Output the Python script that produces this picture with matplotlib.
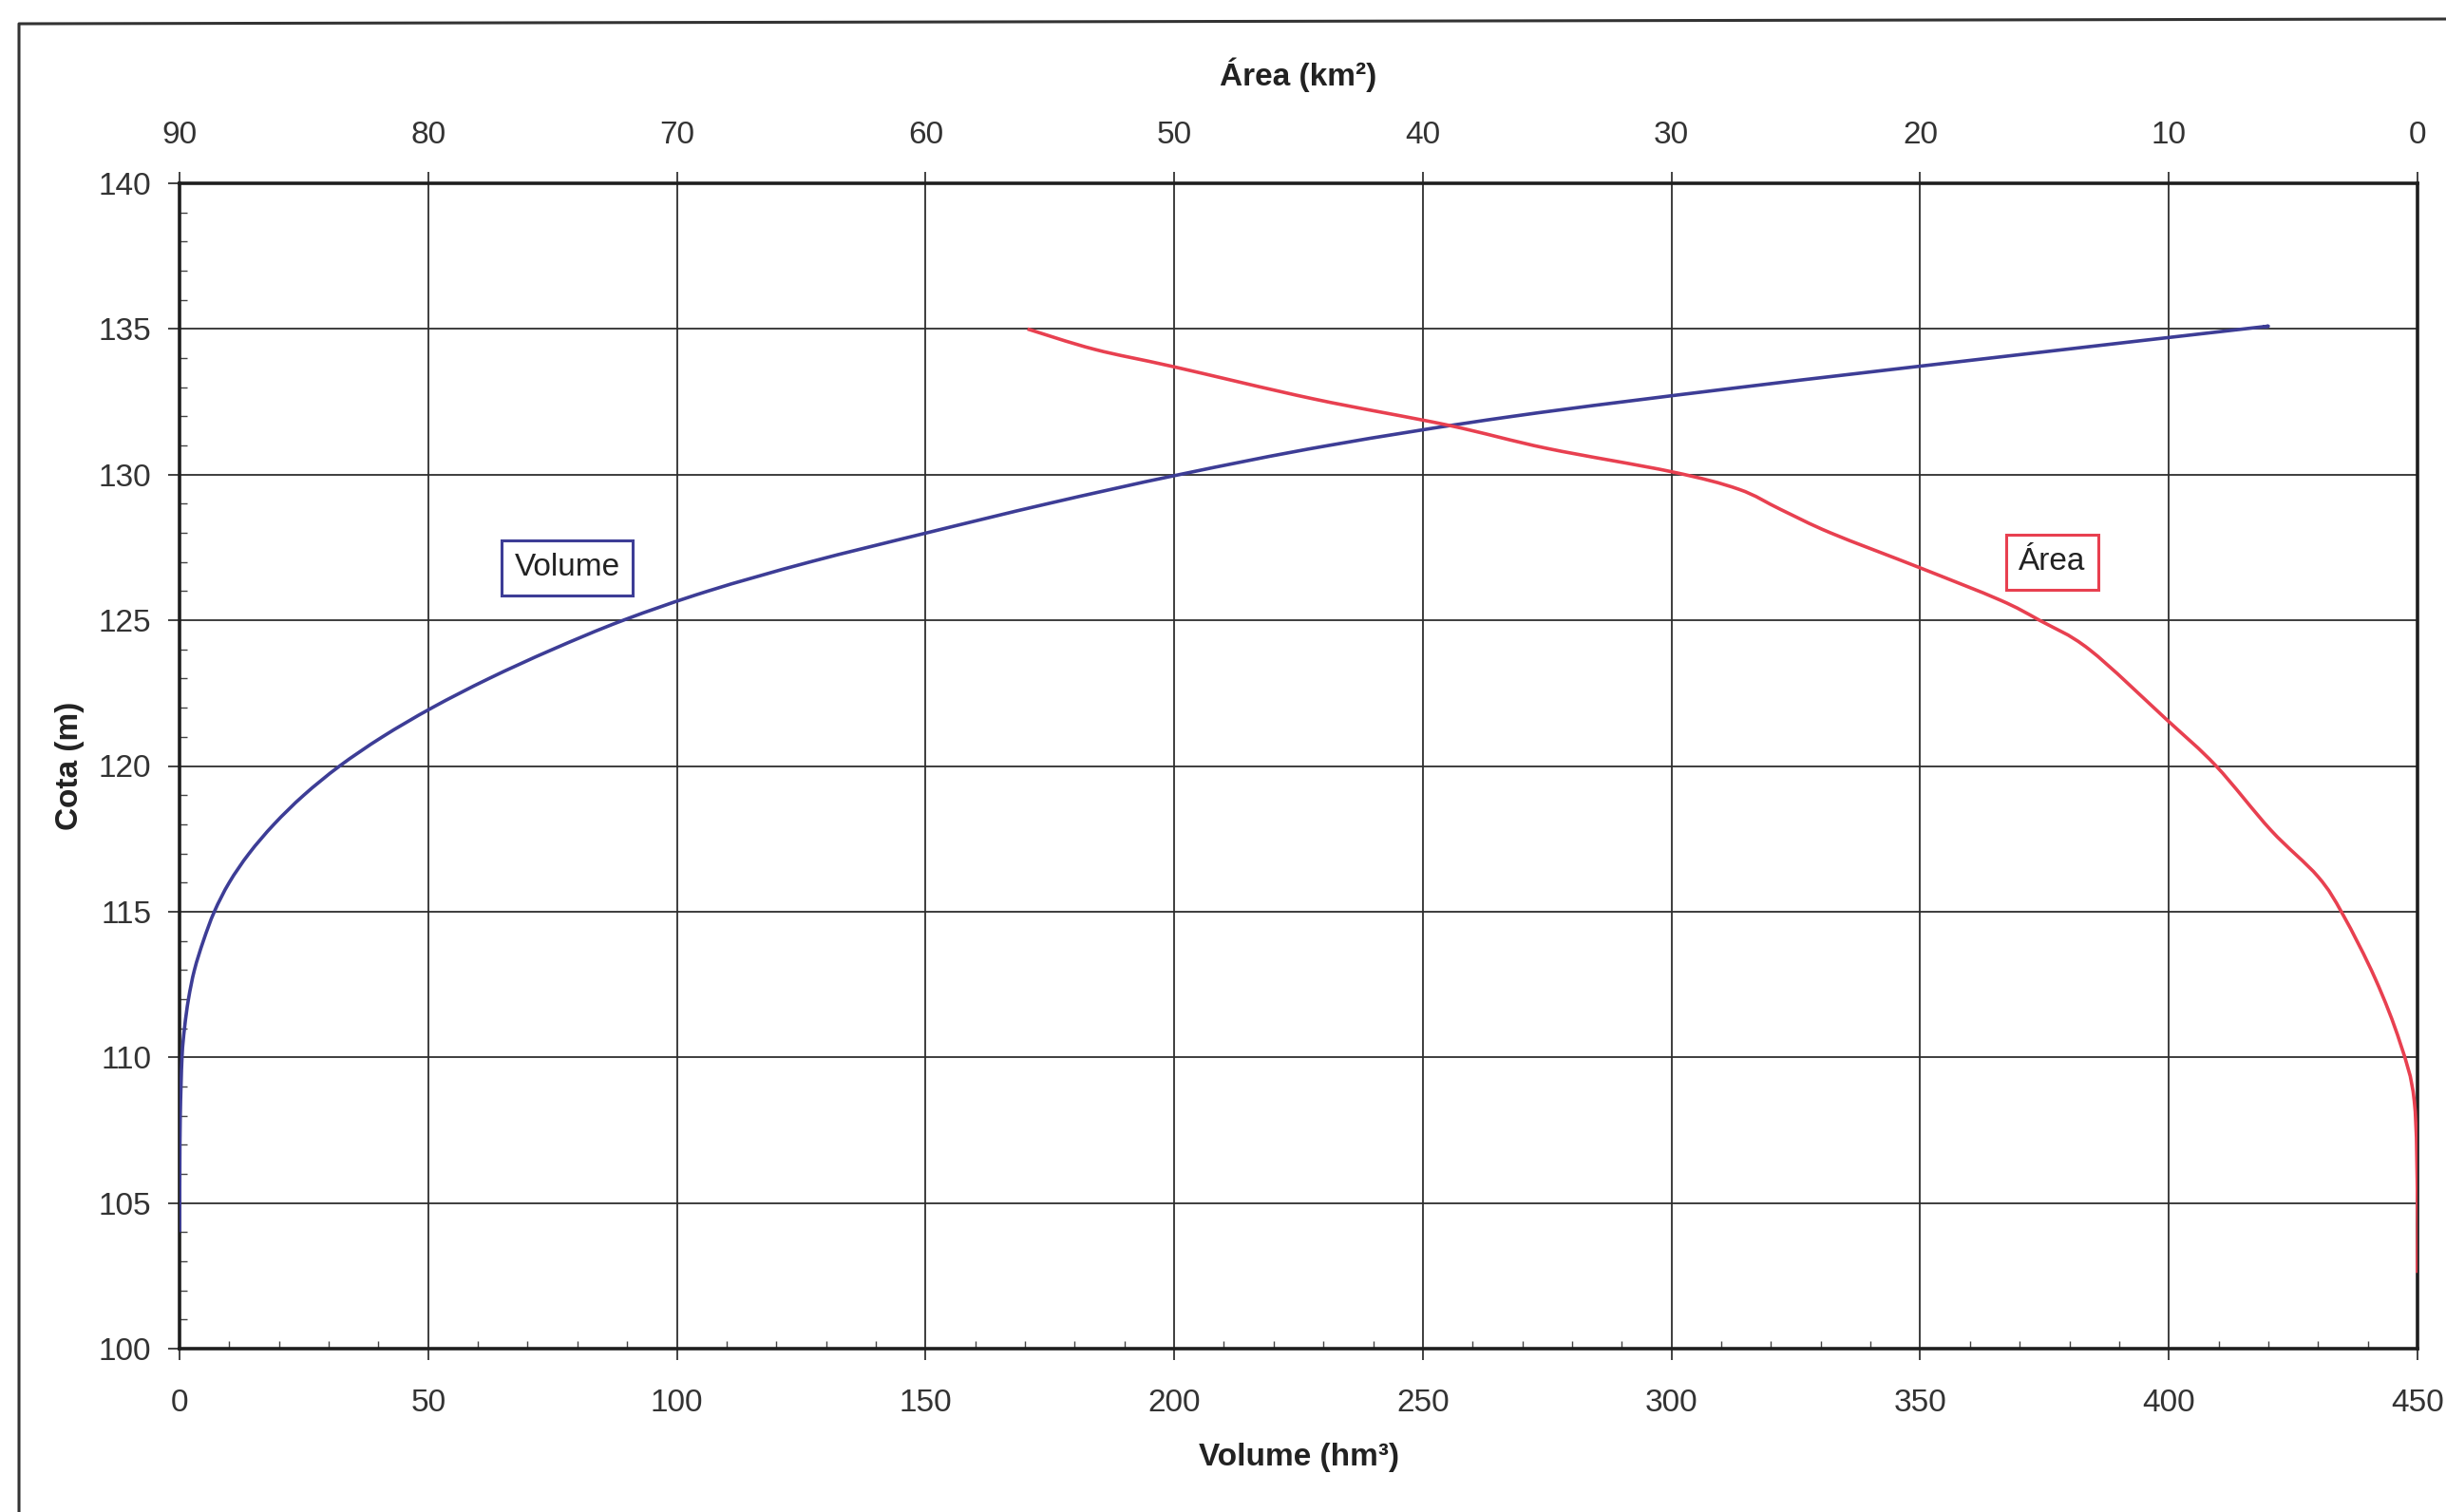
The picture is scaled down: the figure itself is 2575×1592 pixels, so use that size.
import numpy as np
import matplotlib
matplotlib.use("Agg")
import matplotlib.pyplot as plt
from matplotlib.ticker import MultipleLocator
from matplotlib.lines import Line2D
from matplotlib.path import Path
from matplotlib.patches import PathPatch

# Reservoir elevation–volume curve (Cota in m, Volume in hm³)
cota_volume = [104, 106, 108, 110, 111, 112, 113, 114, 115, 116, 117, 118, 119,
               120, 121, 122, 123, 124, 125, 126, 127, 128, 129, 130, 131, 132,
               133, 134, 135, 135.07]
volume = [0.0, 0.05, 0.15, 0.5, 1.0, 1.8, 3.0, 4.8, 7.0, 10.0, 14.0, 19.0, 25.0,
          32.2, 40.8, 50.8, 62.2, 75.0, 89.2, 106.2, 126.7, 150.2, 174.5, 201.0,
          231.0, 268.0, 314.0, 364.0, 415.0, 419.0]

# Reservoir elevation–area curve (Cota in m, Área in km²)
cota_area = [102.6, 105.0, 108.5, 110.5, 112.7, 114.9, 116.2, 117.8, 120.0, 121.6,
             124.0, 125.0, 125.7, 126.8, 128.0, 128.8, 129.5, 130.1, 130.9,
             131.7, 132.6, 133.7, 134.3, 135.0]
area = [0.0, 0.0, 0.13, 0.7, 1.7, 3.0, 4.0, 5.9, 8.1, 10.1,
        13.2, 15.2, 16.8, 20.0, 23.6, 25.6, 27.3, 30.0, 35.0,
        39.0, 44.4, 50.0, 53.2, 55.9]

volume_ticks = list(range(0, 451, 50))
area_ticks = list(range(90, -1, -10))
cota_ticks = list(range(100, 141, 5))

blue = "#3d3d96"
red = "#e84050"
text_col = "#333333"


def smoothed_path(xs, ys):
    """Smoothed polyline (Catmull-Rom segments as cubic Béziers) through the points."""
    pts = np.column_stack([xs, ys]).astype(float)
    verts = [pts[0]]
    codes = [Path.MOVETO]
    n = len(pts)
    for i in range(n - 1):
        p0 = pts[i - 1] if i > 0 else pts[i]
        p1 = pts[i]
        p2 = pts[i + 1]
        p3 = pts[i + 2] if i + 2 < n else pts[i + 1]
        verts += [p1 + (p2 - p0) / 6.0, p2 - (p3 - p1) / 6.0, p2]
        codes += [Path.CURVE4] * 3
    return Path(verts, codes)


plt.rcParams["font.family"] = ["Liberation Sans", "DejaVu Sans"]

W, H = 2575, 1592
fig = plt.figure(figsize=(W / 100, H / 100), dpi=100)
fig.patch.set_facecolor("white")

left, right, top, bottom = 189, 2545, 193, 1420
ax = fig.add_axes([left / W, 1 - bottom / H, (right - left) / W, (bottom - top) / H])

ax.set_xlim(0, 450)
ax.set_ylim(100, 140)
ax.set_xticks(volume_ticks)
ax.set_yticks(cota_ticks)
ax.xaxis.set_minor_locator(MultipleLocator(10))
ax.yaxis.set_minor_locator(MultipleLocator(1))
ax.grid(True, which="major", color="#2e2e2e", lw=1.3)
ax.set_axisbelow(True)

ax.tick_params(axis="both", which="major", direction="out", length=8.5, width=1.2,
               color="#222222", labelsize=24, labelcolor=text_col)
ax.tick_params(axis="x", which="major", pad=22)
ax.tick_params(axis="y", which="major", pad=13)
ax.tick_params(axis="both", which="minor", direction="in", length=6, width=1.0,
               color="#444444")
for s in ax.spines.values():
    s.set_linewidth(2.6)
    s.set_color("#1e1e1e")

ax.add_patch(PathPatch(smoothed_path(volume, cota_volume), fill=False, ec=blue,
                       lw=2.6, capstyle="butt", joinstyle="round", zorder=3))

ax.set_xlabel("Volume (hm³)", fontsize=24, fontweight="bold", color="#222222")
ax.xaxis.set_label_coords(0.5, -(1534 - bottom) / (bottom - top))
ax.xaxis.label.set_va("center")
ax.set_ylabel("Cota (m)", fontsize=24, fontweight="bold", color="#222222")
ax.yaxis.set_label_coords(-(left - 74) / (right - left), 0.5)
ax.yaxis.label.set_va("center")

# Top axis: surface area, reversed
ax2 = ax.twiny()
ax2.set_xlim(90, 0)
ax2.set_xticks(area_ticks)
ax2.tick_params(axis="x", which="major", direction="out", length=8.5, width=1.2,
                color="#222222", labelsize=24, labelcolor=text_col, pad=17)
for s in ax2.spines.values():
    s.set_visible(False)
ax2.add_patch(PathPatch(smoothed_path(area, cota_area), fill=False, ec=red,
                        lw=2.6, capstyle="butt", joinstyle="round", zorder=3))
ax2.set_xlabel("Área (km²)", fontsize=24, fontweight="bold", color="#222222")
ax2.xaxis.set_label_coords(0.5, 1 + (top - 79) / (bottom - top))
ax2.xaxis.label.set_va("center")

# Series labels
ax.text(78, 126.8, "Volume", fontsize=24, color="#222222", ha="center", va="center",
        zorder=5,
        bbox=dict(boxstyle="square,pad=0.4", fc="white", ec=blue, lw=2.2))
ax2.text(14.7, 127.0, "Área", fontsize=24, color="#222222", ha="center", va="center",
         zorder=5,
         bbox=dict(boxstyle="square,pad=0.4", fc="white", ec=red, lw=2.2))

# Outer frame
fig.add_artist(Line2D([20 / W, 20 / W, 1.0], [0.0, 1 - 25 / H, 1 - 20 / H],
                      transform=fig.transFigure, color="#333333", lw=2.2))

fig.savefig("out.png", dpi=100, facecolor="white")
